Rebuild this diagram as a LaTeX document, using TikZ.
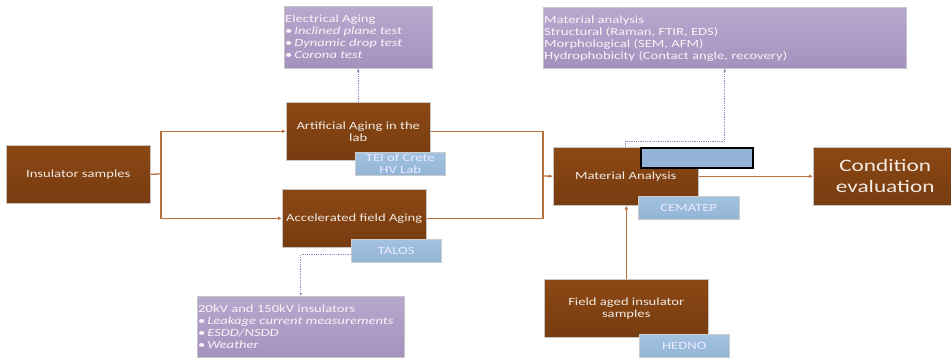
\documentclass[tikz,border=0pt]{standalone}
\usepackage{fontspec}
\setmainfont[FakeStretch=1.33]{Carlito}
\usetikzlibrary{arrows.meta}
\definecolor{brownT}{RGB}{140,72,20}
\definecolor{brownB}{RGB}{118,60,16}
\definecolor{tagT}{RGB}{163,194,224}
\definecolor{tagB}{RGB}{146,180,214}
\definecolor{purT}{RGB}{183,168,206}
\definecolor{purB}{RGB}{164,146,190}
\definecolor{conn}{RGB}{184,114,64}
\definecolor{dotc}{RGB}{150,140,185}
\definecolor{hili}{RGB}{149,179,215}
\definecolor{txtw}{RGB}{242,234,226}
\tikzset{
  x=1pt,y=1pt,
  box/.style={anchor=north west,draw=gray!45,line width=0.5pt,top color=brownT,bottom color=brownB,
    text=txtw,align=center,inner sep=0pt,font=\fontsize{11}{12}\selectfont},
  tag/.style={anchor=north west,draw=gray!40,line width=0.5pt,top color=tagT,bottom color=tagB,
    text=white!92!blue,align=center,inner sep=0pt,font=\fontsize{11}{12}\selectfont},
  pur/.style={anchor=north west,draw=gray!45,line width=0.5pt,top color=purT,bottom color=purB,
    inner sep=0pt},
  purtext/.style={anchor=north west,text=white!95!purple,align=left,inner sep=0pt,
    font=\fontsize{11}{12.2}\selectfont},
  flow/.style={draw=conn,line width=1.3pt,-{Latex[length=4pt,width=3.5pt]}},
  flowp/.style={draw=conn,line width=1.3pt},
  dots/.style={draw=dotc,line width=0.8pt,densely dotted,-{Latex[length=3pt,width=3pt]}},
}
\newcommand{\bul}{\textbullet\,}
\begin{document}
\begin{tikzpicture}
\useasboundingbox (0,0) rectangle (951,-359);
% purple boxes
\node[pur,minimum width=148,minimum height=62] (elec) at (284,-6) {};
\node[purtext] (elect) at (285,-14.5)
  {Electrical Aging\\ \bul\textit{Inclined plane test}\\ \bul\textit{Dynamic drop test}\\ \bul\textit{Corona test}};
\node[pur,minimum width=363,minimum height=61] (mata) at (543,-7) {};
\node[purtext] (matat) at (544,-15.5)
  {Material analysis\\ Structural (Raman, FTIR, EDS)\\ Morphological (SEM, AFM)\\ Hydrophobicity (Contact angle, recovery)};
\node[pur,minimum width=207,minimum height=61] (kv) at (197,-296) {};
\node[purtext] (kvt) at (198,-304.5)
  {20kV and 150kV insulators\\ \bul\textit{Leakage current measurements}\\ \bul\textit{ESDD/NSDD}\\ \bul\textit{Weather}};
% main boxes
\node[box,minimum width=144,minimum height=58] (ins) at (6,-145) {Insulator samples};
\node[box,minimum width=144,minimum height=58] (art) at (286,-102) {Artificial Aging in the\\lab};
\node[box,minimum width=144,minimum height=58] (acc) at (282,-189) {Accelerated field Aging};
\node[box,minimum width=145,minimum height=58] (mat) at (553,-147) {Material Analysis};
\node[box,minimum width=144,minimum height=58,font=\fontsize{17.5}{21}\selectfont] (cond) at (813,-147) {Condition\\evaluation};
\node[box,minimum width=164,minimum height=58] (field) at (544,-279) {Field aged insulator\\samples};
% tags
\node[tag,minimum width=90,minimum height=23] (tei) at (355,-152) {TEI of Crete\\HV Lab};
\node[tag,minimum width=90,minimum height=23] (talos) at (351,-239) {TALOS};
\node[tag,minimum width=101,minimum height=23] (cem) at (638,-196) {CEMATEP};
\node[tag,minimum width=90,minimum height=23] (hedno) at (639,-334) {HEDNO};
\node[anchor=north west,fill=hili,draw=black,line width=2pt,minimum width=112,minimum height=20,inner sep=0pt] (hl) at (640,-147) {};
% connectors
\coordinate (j1) at (161,-174);
\coordinate (j2) at (543,-176);
\coordinate (k) at (700,-141);
\draw[flowp] (ins.east) -- (j1);
\draw[flow] (j1) |- (art.west);
\draw[flow] (j1) |- (acc.west);
\draw[flowp] (art.east) -| (j2);
\draw[flowp] (acc.east) -| (j2);
\draw[flow] (j2) -- (mat.west);
\draw[flow] (mat.east) -- (cond.west);
\draw[flow] (field.north) -- (field.north |- mat.south);
\draw[dots] (art.north) -- (elec.south);
\draw[dots] ([yshift=-4pt]talos.west) -| (kv.north);
\draw[dots] (mat.north) -- (mat.north |- k) -| (mata.south);
\end{tikzpicture}
\end{document}
